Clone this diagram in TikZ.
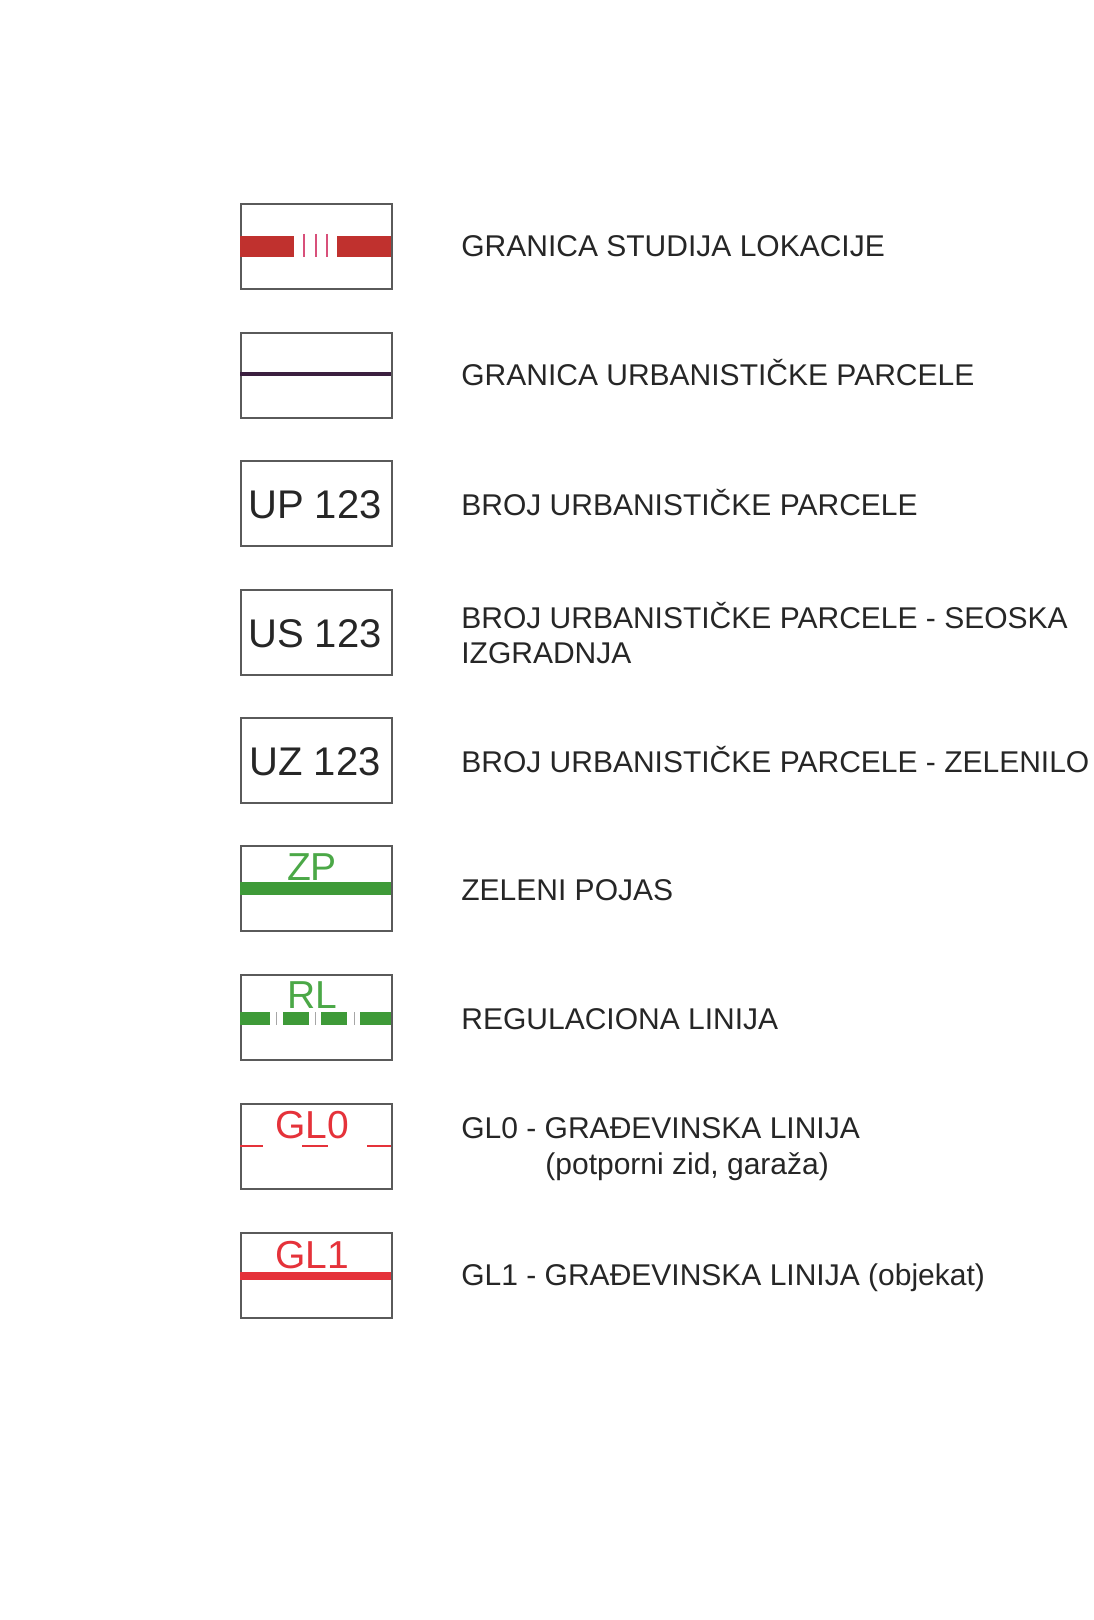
\documentclass[tikz,border=0pt]{standalone}
\usepackage{fontspec}
\setmainfont{Liberation Sans}
\definecolor{boxgray}{HTML}{5A5A5A}
\definecolor{textcol}{HTML}{262626}
\definecolor{brick}{HTML}{C0312E}
\definecolor{pinkline}{HTML}{D8507A}
\definecolor{purpleline}{HTML}{3B1F3F}
\definecolor{legreen}{HTML}{3E9A38}
\definecolor{txtgreen}{HTML}{4BA847}
\definecolor{lered}{HTML}{E5323A}
\begin{document}
\begin{tikzpicture}[x=0.5pt,y=-0.5pt,
  legbox/.style={draw=boxgray, line width=0.9pt, anchor=north west, inner sep=0pt,
                 minimum width=75.5pt, minimum height=42.5pt},
  lab/.style={anchor=base west, inner sep=0pt, text=textcol,
              font=\fontsize{15pt}{18pt}\selectfont},
  boxtxt/.style={anchor=base, inner sep=0pt, text=textcol,
                 font=\fontsize{20pt}{24pt}\selectfont},
  coltxt/.style={anchor=base, inner sep=0pt,
                 font=\fontsize{19.5pt}{23pt}\selectfont}]
\useasboundingbox (0,0) rectangle (1093,1620);
\fill[white] (0,0) rectangle (1093,1620);

% ---- row 1: granica studija lokacije
\node[legbox] (b1) at (240,203) {};
\fill[brick] (240,236) rectangle (294,257);
\fill[brick] (337,236) rectangle (391,257);
\foreach \xx in {304,316,327}
  \draw[pinkline, line width=0.6pt] (\xx,234) -- (\xx,257);
\node[lab] (t1) at (461,257) {GRANICA STUDIJA LOKACIJE};

% ---- row 2: granica urbanisticke parcele
\node[legbox] (b2) at (240,332) {};
\draw[purpleline, line width=1.6pt] (240,374) -- (391,374);
\node[lab] (t2) at (461,386) {GRANICA URBANISTIČKE PARCELE};

% ---- row 3
\node[legbox] (b3) at (240,460) {};
\node[boxtxt] (n3) at (315,518) {UP 123};
\node[lab] (t3) at (461,515) {BROJ URBANISTIČKE PARCELE};

% ---- row 4
\node[legbox] (b4) at (240,589) {};
\node[boxtxt] (n4) at (315,647) {US 123};
\node[lab] (t4a) at (461,628) {BROJ URBANISTIČKE PARCELE - SEOSKA};
\node[lab] (t4b) at (461,663) {IZGRADNJA};

% ---- row 5
\node[legbox] (b5) at (240,717) {};
\node[boxtxt] (n5) at (315,775) {UZ 123};
\node[lab] (t5) at (461,772) {BROJ URBANISTIČKE PARCELE - ZELENILO};

% ---- row 6: zeleni pojas
\node[legbox] (b6) at (240,845) {};
\fill[legreen] (240,882) rectangle (391,895);
\node[coltxt, text=txtgreen] (n6) at (312,880) {ZP};
\node[lab] (t6) at (461,900) {ZELENI POJAS};

% ---- row 7: regulaciona linija
\node[legbox] (b7) at (240,974) {};
\fill[legreen] (240,1012) rectangle (270,1025);
\fill[legreen] (283,1012) rectangle (309,1025);
\fill[legreen] (321,1012) rectangle (347,1025);
\fill[legreen] (360,1012) rectangle (391,1025);
\foreach \xx in {276,315,354}
  \draw[gray!70, line width=0.5pt] (\xx,1012) -- (\xx,1025);
\node[coltxt, text=txtgreen] (n7) at (312,1008) {RL};
\node[lab] (t7) at (461,1029) {REGULACIONA LINIJA};

% ---- row 8: GL0
\node[legbox] (b8) at (240,1103) {};
\draw[lered, line width=1.3pt] (240,1146) -- (263,1146);
\draw[lered, line width=1.3pt] (302,1146) -- (328,1146);
\draw[lered, line width=1.3pt] (367,1146) -- (391,1146);
\node[coltxt, text=lered] (n8) at (312,1138) {GL0};
\node[lab] (t8a) at (461,1138) {GL0 - GRAĐEVINSKA LINIJA};
\node[lab] (t8b) at (545,1174) {(potporni zid, garaža)};

% ---- row 9: GL1
\node[legbox] (b9) at (240,1232) {};
\fill[lered] (240,1272) rectangle (391,1280);
\node[coltxt, text=lered] (n9) at (312,1268) {GL1};
\node[lab] (t9) at (461,1285) {GL1 - GRAĐEVINSKA LINIJA (objekat)};
\end{tikzpicture}
\end{document}
